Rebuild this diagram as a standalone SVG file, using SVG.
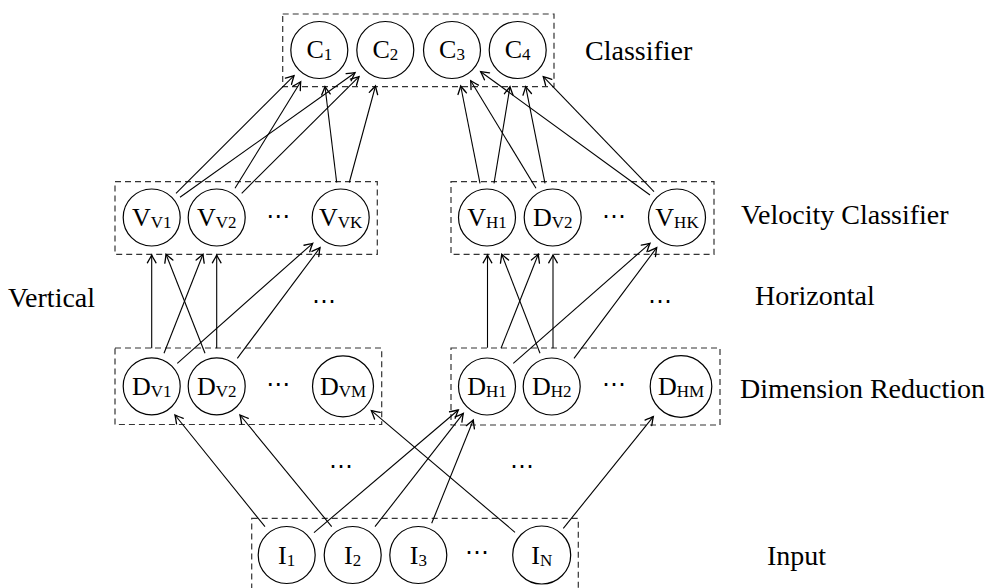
<svg xmlns="http://www.w3.org/2000/svg" width="999" height="588" viewBox="0 0 999 588">
<defs>
<marker id="arr" markerUnits="userSpaceOnUse" markerWidth="12" markerHeight="12" viewBox="-8 -5 10 10" refX="0" refY="0" orient="auto">
<path d="M-6.5,-3.6 Q-2,-1 0,0 Q-2,1 -6.5,3.6" fill="none" stroke="#000" stroke-width="1.1" stroke-linecap="round"/>
</marker>
</defs>
<style>
.box{fill:none;stroke:#333;stroke-width:1.2;stroke-dasharray:6 4}
.n{fill:#fff;stroke:#000;stroke-width:1.2}
.t{font-family:"Liberation Serif",serif;font-size:26px;fill:#000;text-anchor:middle}
.s{font-size:17px}
.lab{font-family:"Liberation Serif",serif;font-size:28px;fill:#000}
.dots{font-family:"DejaVu Sans",sans-serif;font-size:24px;fill:#000;text-anchor:middle}
.e{stroke:#000;stroke-width:1.1;fill:none;marker-end:url(#arr)}
</style>
<rect width="999" height="588" fill="#fff"/>

<g id="groups">
<rect class="box" x="282.7" y="14" width="271.3" height="72.7"/>
<rect class="box" x="115" y="181.7" width="262.3" height="72.6"/>
<rect class="box" x="451" y="181.7" width="263" height="72.6"/>
<rect class="box" x="115" y="348" width="266.7" height="76.5"/>
<rect class="box" x="451" y="348" width="269" height="77"/>
<rect class="box" x="251.7" y="518.3" width="326.6" height="74"/>
</g>

<g id="connectors">
<line class="e" x1="176" y1="193.3" x2="294" y2="75.7"/>
<line class="e" x1="180" y1="197.3" x2="355" y2="72.7"/>
<line class="e" x1="235" y1="188.3" x2="300.7" y2="81.7"/>
<line class="e" x1="241.7" y1="193.3" x2="359" y2="76.7"/>
<line class="e" x1="336.7" y1="182.5" x2="325" y2="86.7"/>
<line class="e" x1="349.3" y1="182.5" x2="375.5" y2="86"/>
<line class="e" x1="480" y1="183.3" x2="460.7" y2="86"/>
<line class="e" x1="494" y1="183.3" x2="510" y2="86.7"/>
<line class="e" x1="536" y1="188.3" x2="470.7" y2="80.7"/>
<line class="e" x1="545" y1="183.3" x2="525.7" y2="86.7"/>
<line class="e" x1="650" y1="195" x2="480.7" y2="71.7"/>
<line class="e" x1="654" y1="191.7" x2="543.3" y2="76.7"/>

<line class="e" x1="151.7" y1="348.3" x2="151.7" y2="255"/>
<line class="e" x1="164" y1="353.3" x2="203" y2="254.3"/>
<line class="e" x1="177.3" y1="363.3" x2="312.7" y2="243.3"/>
<line class="e" x1="205" y1="353.3" x2="166" y2="254.3"/>
<line class="e" x1="216.7" y1="348.3" x2="216.7" y2="255"/>
<line class="e" x1="237.3" y1="358.3" x2="320" y2="247.7"/>

<line class="e" x1="487.5" y1="347.7" x2="487.5" y2="255"/>
<line class="e" x1="501" y1="348.3" x2="538.3" y2="254.3"/>
<line class="e" x1="513.3" y1="363.3" x2="650" y2="243.3"/>
<line class="e" x1="540" y1="353.3" x2="501.7" y2="254.3"/>
<line class="e" x1="553" y1="348.3" x2="553" y2="255"/>
<line class="e" x1="574" y1="358.3" x2="656.7" y2="247.7"/>

<line class="e" x1="265" y1="526.7" x2="175" y2="415"/>
<line class="e" x1="314" y1="532.7" x2="458.3" y2="410"/>
<line class="e" x1="331.7" y1="526.7" x2="240" y2="415"/>
<line class="e" x1="375" y1="526.7" x2="463.3" y2="413.3"/>
<line class="e" x1="431.7" y1="523.3" x2="473.3" y2="420"/>
<line class="e" x1="515" y1="532.3" x2="371.4" y2="410.7"/>
<line class="e" x1="563.3" y1="528.3" x2="653.3" y2="416.7"/>
</g>

<g id="c1"><circle class="n" cx="319.3" cy="50" r="28.5"/><text class="t" x="319.3" y="58">C<tspan class="s" dy="2">1</tspan></text></g>
<g id="c2"><circle class="n" cx="385.3" cy="50" r="28.5"/><text class="t" x="385.3" y="58">C<tspan class="s" dy="2">2</tspan></text></g>
<g id="c3"><circle class="n" cx="452" cy="50" r="28.5"/><text class="t" x="452" y="58">C<tspan class="s" dy="2">3</tspan></text></g>
<g id="c4"><circle class="n" cx="517.7" cy="50" r="28.5"/><text class="t" x="517.7" y="58">C<tspan class="s" dy="2">4</tspan></text></g>

<g id="vv1"><circle class="n" cx="151.7" cy="217.5" r="28.5"/><text class="t" x="151.7" y="226">V<tspan class="s" dy="2">V1</tspan></text></g>
<g id="vv2"><circle class="n" cx="216.7" cy="217.5" r="28.5"/><text class="t" x="216.7" y="226">V<tspan class="s" dy="2">V2</tspan></text></g>
<g id="vvk"><circle class="n" cx="340.7" cy="217.5" r="28.5"/><text class="t" x="340.7" y="226">V<tspan class="s" dy="2">VK</tspan></text></g>

<g id="vh1"><circle class="n" cx="487" cy="217.5" r="28.5"/><text class="t" x="487" y="226">V<tspan class="s" dy="2">H1</tspan></text></g>
<g id="dv2r"><circle class="n" cx="552.7" cy="217.5" r="28.5"/><text class="t" x="552.7" y="226">D<tspan class="s" dy="2">V2</tspan></text></g>
<g id="vhk"><circle class="n" cx="677" cy="217.5" r="28.5"/><text class="t" x="677" y="226">V<tspan class="s" dy="2">HK</tspan></text></g>

<g id="dv1"><circle class="n" cx="151.7" cy="386.3" r="28.5"/><text class="t" x="151.7" y="395">D<tspan class="s" dy="2">V1</tspan></text></g>
<g id="dv2"><circle class="n" cx="216.7" cy="386.3" r="28.5"/><text class="t" x="216.7" y="395">D<tspan class="s" dy="2">V2</tspan></text></g>
<g id="dvm"><circle class="n" cx="343" cy="386.3" r="30.5"/><text class="t" x="343" y="395">D<tspan class="s" dy="2">VM</tspan></text></g>

<g id="dh1"><circle class="n" cx="487" cy="386.5" r="28.5"/><text class="t" x="487" y="395">D<tspan class="s" dy="2">H1</tspan></text></g>
<g id="dh2"><circle class="n" cx="551.7" cy="386.5" r="28.5"/><text class="t" x="551.7" y="395">D<tspan class="s" dy="2">H2</tspan></text></g>
<g id="dhm"><circle class="n" cx="681" cy="386.5" r="30.8"/><text class="t" x="681" y="395">D<tspan class="s" dy="2">HM</tspan></text></g>

<g id="i1"><circle class="n" cx="286.7" cy="555" r="28.5"/><text class="t" x="286.7" y="564">I<tspan class="s" dy="2">1</tspan></text></g>
<g id="i2"><circle class="n" cx="352.7" cy="555" r="28.5"/><text class="t" x="352.7" y="564">I<tspan class="s" dy="2">2</tspan></text></g>
<g id="i3"><circle class="n" cx="418.3" cy="555" r="28.5"/><text class="t" x="418.3" y="564">I<tspan class="s" dy="2">3</tspan></text></g>
<g id="in"><circle class="n" cx="541.7" cy="555" r="29"/><text class="t" x="541.7" y="564">I<tspan class="s" dy="2">N</tspan></text></g>

<g id="ellipses">
<text class="dots" x="278.3" y="224">⋯</text>
<text class="dots" x="614" y="224">⋯</text>
<text class="dots" x="278.3" y="392">⋯</text>
<text class="dots" x="614" y="392">⋯</text>
<text class="dots" x="324" y="308.5">⋯</text>
<text class="dots" x="660" y="308.5">⋯</text>
<text class="dots" x="341" y="474">⋯</text>
<text class="dots" x="522" y="474">⋯</text>
<text class="dots" x="477" y="560">⋯</text>
</g>

<g id="labels">
<text class="lab" x="585" y="60">Classifier</text>
<text class="lab" x="741" y="224">Velocity Classifier</text>
<text class="lab" x="8" y="307">Vertical</text>
<text class="lab" x="755" y="305">Horizontal</text>
<text class="lab" x="740" y="398">Dimension Reduction</text>
<text class="lab" x="767" y="565">Input</text>
</g>
</svg>
